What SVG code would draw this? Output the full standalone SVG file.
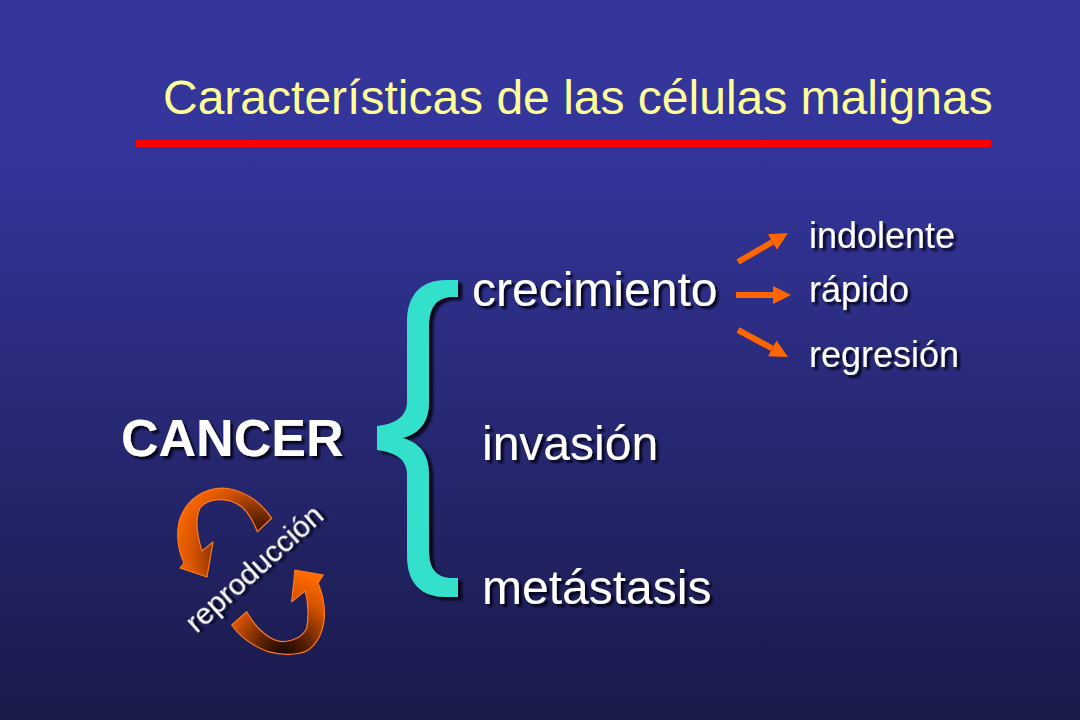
<svg xmlns="http://www.w3.org/2000/svg" width="1080" height="720" viewBox="0 0 1080 720">
  <defs>
    <linearGradient id="bg" x1="0" y1="0" x2="0" y2="1">
      <stop offset="0" stop-color="#34369b"/>
      <stop offset="0.22" stop-color="#33359a"/>
      <stop offset="1" stop-color="#1a1a4a"/>
    </linearGradient>
    <radialGradient id="gA" gradientUnits="userSpaceOnUse" cx="258" cy="552" r="88">
      <stop offset="0" stop-color="#1a0600"/>
      <stop offset="0.35" stop-color="#5a2000"/>
      <stop offset="0.75" stop-color="#d85400"/>
      <stop offset="1" stop-color="#ff6a00"/>
    </radialGradient>
    <radialGradient id="gB" gradientUnits="userSpaceOnUse" cx="284" cy="654" r="82">
      <stop offset="0" stop-color="#1a0600"/>
      <stop offset="0.3" stop-color="#5a2000"/>
      <stop offset="0.7" stop-color="#d85400"/>
      <stop offset="1" stop-color="#ff6a00"/>
    </radialGradient>
    <filter id="shadow" x="-10%" y="-10%" width="130%" height="140%">
      <feDropShadow dx="3" dy="3" stdDeviation="1" flood-color="#000010" flood-opacity="0.85"/>
    </filter>
    <filter id="braceShadow" x="-20%" y="-10%" width="150%" height="120%">
      <feDropShadow dx="4" dy="3" stdDeviation="1.5" flood-color="#000008" flood-opacity="0.9"/>
    </filter>
    <marker id="head" markerUnits="userSpaceOnUse" markerWidth="18" markerHeight="18" refX="0" refY="9" orient="auto" viewBox="0 0 18 18">
      <path d="M0,0 L18,9 L0,18 Z" fill="#ff6600"/>
    </marker>
    <style>
      .title { font-family: "Liberation Sans", Arial, sans-serif; font-size: 48px; fill: #ffff99; }
      .big { font-family: "Liberation Sans", Arial, sans-serif; font-size: 48px; fill: #ffffff; filter: url(#shadow); }
      .small { font-family: "Liberation Sans", Arial, sans-serif; font-size: 36px; fill: #ffffff; filter: url(#shadow); }
      .bold { font-family: "Liberation Sans", Arial, sans-serif; font-size: 52px; font-weight: bold; fill: #ffffff; filter: url(#shadow); }
      .rep { font-family: "Liberation Sans", Arial, sans-serif; font-size: 30px; fill: #ffffff; filter: url(#shadow); }
      .conn { stroke: #ff6600; stroke-width: 6; fill: none; marker-end: url(#head); }
      .curved { stroke: #ff7a1a; stroke-width: 1.2; stroke-linejoin: round; }
    </style>
  </defs>

  <rect id="background" x="0" y="0" width="1080" height="720" fill="url(#bg)"/>

  <g id="title">
    <text class="title" x="163" y="114">Características de las células malignas</text>
    <rect x="136" y="140" width="855" height="7" fill="#ff0000"/>
  </g>

  <g id="cancer">
    <text class="bold" x="121" y="456">CANCER</text>
  </g>

  <g id="brace">
    <path filter="url(#braceShadow)" fill="#33e0cc" d="M458,280 L446,280 C422,280 407,294 407,322 L407,402 C407,416 396,424 377,426 L377,450 C396,452 407,460 407,474 L407,556 C407,584 422,597 446,597 L458,597 L458,578 L452,578 C438,578 429,570 429,552 L429,474 C429,454 419,442 402,438 C419,434 429,422 429,402 L429,326 C429,306 438,297 452,297 L458,297 Z"/>
  </g>

  <g id="crecimiento">
    <text class="big" x="472" y="306">crecimiento</text>
  </g>
  <g id="invasion">
    <text class="big" x="482" y="460">invasión</text>
  </g>
  <g id="metastasis">
    <text class="big" x="482" y="604">metástasis</text>
  </g>

  <g id="indolente">
    <text class="small" x="809" y="248">indolente</text>
  </g>
  <g id="rapido">
    <text class="small" x="809" y="302">rápido</text>
  </g>
  <g id="regresion">
    <text class="small" x="809" y="367">regresión</text>
  </g>

  <g id="connectors">
    <line class="conn" x1="738" y1="262" x2="772.4" y2="242"/>
    <line class="conn" x1="736" y1="295" x2="773" y2="295"/>
    <line class="conn" x1="738" y1="330" x2="772.2" y2="348.4"/>
  </g>

  <g id="reproduccion">
    <path class="curved" fill="url(#gA)" d="M271.7,518.3 C262,504 248,492 228,488.5 C205,486 185,500 179,522 C176,537 179,552 184,563 L180,568 L207,577 L213,542 L202,551 C197,535 195,518 200,508 C208,498 228,496 242,507 C250,514 254,523 257.3,531.7 Z"/>
    <path class="curved" fill="url(#gB)" d="M231.7,625 C238,634 250,645 268,651.7 C280,655 298,656 308.3,650 C318,643 323,632 324.3,618 C325,604 322,592 318,583 L323.3,575 L295,570 L291.7,601.7 L305,591 C308,600 309,615 306.7,628.3 C303,636 296,641 282,641.7 C272,641 258,632 246.7,611.7 Z"/>
    <text class="rep" x="0" y="0" text-anchor="middle" transform="translate(261,576) rotate(-42)">reproducción</text>
  </g>
</svg>
